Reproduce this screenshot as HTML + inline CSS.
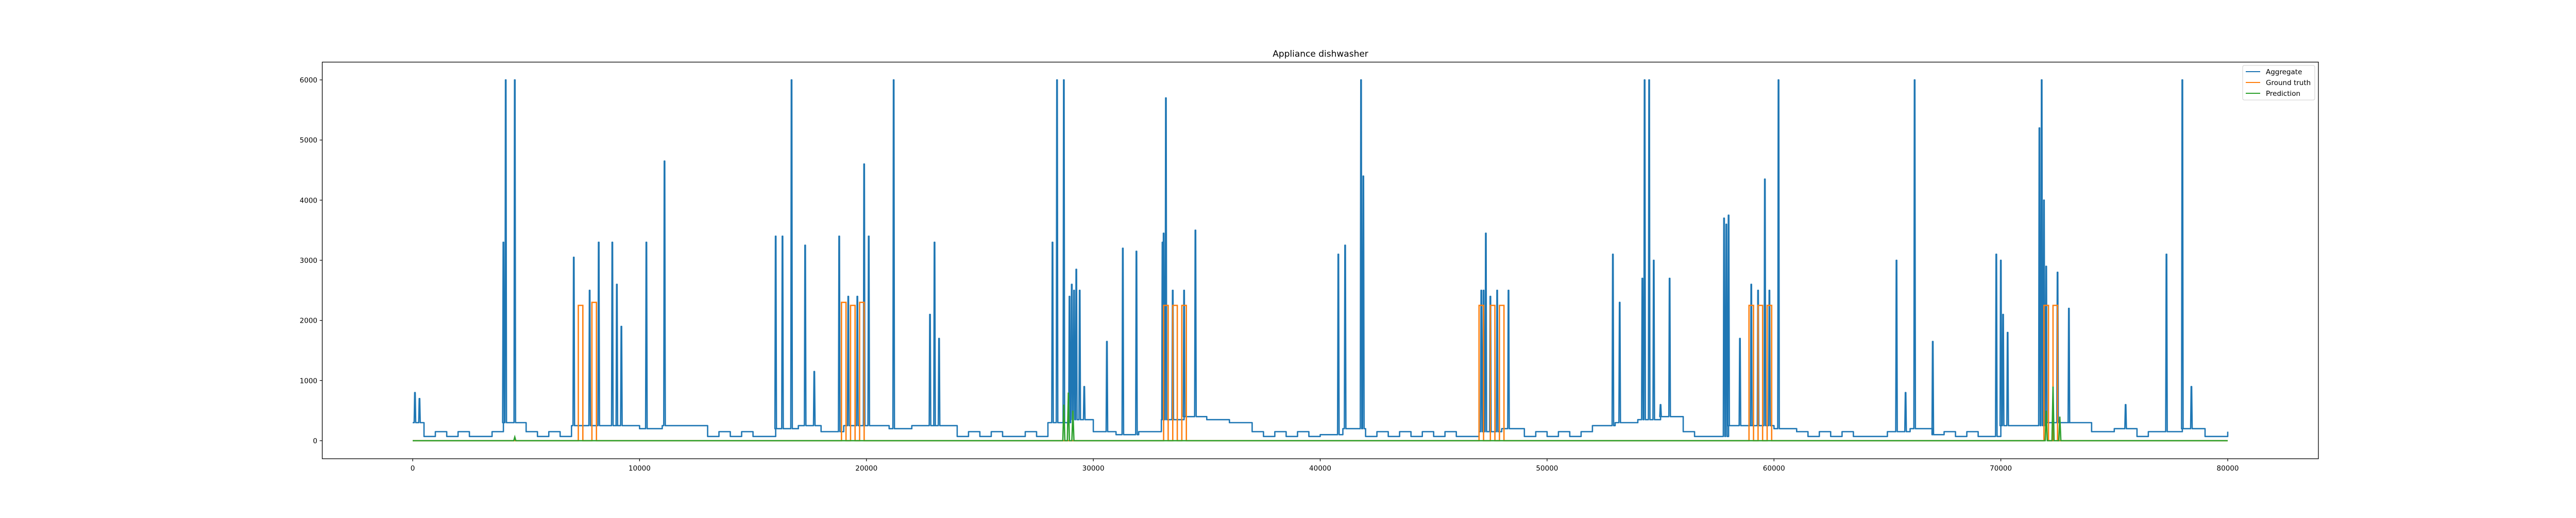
<!DOCTYPE html>
<html><head><meta charset="utf-8"><style>
html,body{margin:0;padding:0;background:#fff;}
svg text{font-family:"DejaVu Sans","Liberation Sans",sans-serif;}
</style></head><body>
<svg id="chart" width="5000" height="1000" xmlns="http://www.w3.org/2000/svg">
<rect width="5000" height="1000" fill="#fff"/>
<text x="2563" y="110" font-size="17" text-anchor="middle">Appliance dishwasher</text>
<g id="marks"></g>
<g id="axes"></g>
<g>
<rect x="4353" y="127" width="140" height="67" rx="3" fill="#fff" fill-opacity="0.8" stroke="#ccc"/>
<line x1="4359" y1="139" x2="4387" y2="139" stroke="#1f77b4" stroke-width="2"/>
<text x="4398" y="144" font-size="13.5">Aggregate</text>
<line x1="4359" y1="160" x2="4387" y2="160" stroke="#ff7f0e" stroke-width="2"/>
<text x="4398" y="165" font-size="13.5">Ground truth</text>
<line x1="4359" y1="181" x2="4387" y2="181" stroke="#2ca02c" stroke-width="2"/>
<text x="4398" y="186" font-size="13.5">Prediction</text>
</g>
</svg>
<script>
const baseX=[0,500,1000,1500,2000,2500,3000,3500,4000,5000,5500,6000,6500,7000,8000,9000,10000,11000,12000,13000,13500,14000,14500,15000,16000,17000,18000,19000,20000,21000,22000,23000,24000,24500,25000,25500,26000,26500,27000,27500,28000,29000,30000,31000,32000,33000,34000,35000,36000,37000,37500,38000,38500,39000,39500,40000,41000,42000,42500,43000,43500,44000,44500,45000,45500,46000,47000,48000,49000,49500,50000,50500,51000,51500,52000,53000,54000,55000,56000,56500,57000,58000,59000,60000,61000,61500,62000,62500,63000,63500,64000,65000,66000,67000,67500,68000,68500,69000,70000,71000,72000,73000,74000,75000,76000,76500,77000,78000,79000,80000];
const baseY=[300,70,150,70,150,70,70,150,300,150,70,150,70,250,250,250,200,250,250,70,150,70,150,70,200,250,150,250,250,200,250,250,70,150,70,150,70,70,150,70,300,350,150,100,150,350,400,350,300,150,70,150,70,150,70,100,200,70,150,70,150,70,150,70,150,70,150,200,70,150,70,150,70,150,250,300,350,400,150,70,70,250,250,200,150,70,150,70,150,70,70,150,200,100,150,70,150,70,250,250,300,300,150,200,70,150,150,200,70,150];
const spikeX=[100,300,4000,4100,4500,7100,7800,8200,8800,9000,9200,10300,11100,16000,16300,16700,17300,17700,18800,19200,19600,19900,20100,21200,22800,23000,23200,28200,28400,28700,28950,29050,29150,29250,29400,29600,30600,31300,31900,33050,33100,33200,33500,34000,34500,40800,41100,41800,41900,47100,47200,47300,47500,47800,48300,52900,53200,54200,54300,54500,54700,55000,55400,57800,57900,58000,58500,59000,59300,59600,59800,60200,65400,65800,66200,67000,69800,70000,70100,70300,71700,71800,71900,72000,72500,73000,75500,77300,78000,78400];
const spikeY=[800,700,3300,6000,6000,3050,2500,3300,3300,2600,1900,3300,4650,3400,3400,6000,3250,1150,3400,2400,2400,4600,3400,6000,2100,3300,1700,3300,6000,6000,2400,2600,2500,2850,2500,900,1650,3200,3150,3300,3450,5700,2500,2500,3500,3100,3250,6000,4400,2500,2500,3450,2400,2500,2500,3100,2300,2700,6000,6000,3000,600,2700,3700,3600,3750,1700,2600,2500,4350,2500,6000,3000,800,6000,1650,3100,3000,2100,1800,5200,6000,4000,2900,2800,2200,600,3100,6000,900];
const gtStart=[7300,7900,18900,19300,19700,33100,33500,33900,47000,47500,47900,58900,59300,59700,71900,72300];
const gtEnd=[7500,8100,19100,19500,19900,33300,33700,34100,47200,47700,48100,59100,59500,59900,72100,72500];
const gtLevel=[2250,2300,2300,2250,2300,2250,2250,2250,2250,2250,2250,2250,2250,2250,2250,2250];
const predX=[4500,28700,28900,29100,72000,72300,72600];
const predY=[60,600,800,500,500,900,400];
const xTicks=[0,10000,20000,30000,40000,50000,60000,70000,80000];
const yTicks=[0,1000,2000,3000,4000,5000,6000];

const X=v=>801+v*(3523/80000);
const Y=v=>855-v*(700/6000);
const NS='http://www.w3.org/2000/svg';
const marks=document.getElementById('marks');
const axes=document.getElementById('axes');
function mk(tag,attrs,parent){const e=document.createElementNS(NS,tag);for(const k in attrs)e.setAttribute(k,attrs[k]);parent.appendChild(e);return e;}

let pts=[];
let si=0;
const spikes=spikeX.map((x,i)=>[x,spikeY[i]]).sort((a,b)=>a[0]-b[0]);
for(let i=0;i<baseX.length;i++){
  const x0=baseX[i], x1=i+1<baseX.length?baseX[i+1]:baseX[i]+200, y=baseY[i];
  pts.push([X(x0),Y(y)]);
  while(si<spikes.length && spikes[si][0]<x1){
    const sx=X(spikes[si][0]);
    pts.push([sx-1.5,Y(y)],[sx-0.5,Y(spikes[si][1])],[sx+0.5,Y(spikes[si][1])],[sx+1.5,Y(y)]);
    si++;
  }
  if(i+1<baseX.length) pts.push([X(x1),Y(y)]);
}
const agg=mk('polyline',{points:pts.map(p=>p[0].toFixed(1)+','+p[1].toFixed(1)).join(' '),fill:'none',stroke:'#1f77b4','stroke-width':2.6,'stroke-linejoin':'round'},marks);



let g=[[X(0),Y(0)]];
for(let i=0;i<gtStart.length;i++){
  g.push([X(gtStart[i]),Y(0)],[X(gtStart[i]),Y(gtLevel[i])],[X(gtEnd[i]),Y(gtLevel[i])],[X(gtEnd[i]),Y(0)]);
}
g.push([X(80000),Y(0)]);
const gt=mk('polyline',{points:g.map(p=>p[0].toFixed(1)+','+p[1].toFixed(1)).join(' '),fill:'none',stroke:'#ff7f0e','stroke-width':2.6},marks);



let p=[[X(0),Y(0)]];
for(let i=0;i<predX.length;i++){
  const sx=X(predX[i]);
  p.push([sx-2,Y(0)],[sx,Y(predY[i])],[sx+2,Y(0)]);
}
p.push([X(80000),Y(0)]);
const pr=mk('polyline',{points:p.map(q=>q[0].toFixed(1)+','+q[1].toFixed(1)).join(' '),fill:'none',stroke:'#2ca02c','stroke-width':2.6},marks);



const frame=mk('rect',{x:625.5,y:120.5,width:3874.5,height:769.5,fill:'none',stroke:'#000','stroke-width':1.3},axes);


xTicks.forEach(v=>{
  const x=X(v);
  mk('line',{x1:x,y1:890,x2:x,y2:895,stroke:'#000','stroke-width':1.2},axes);
  const t=mk('text',{x:x,y:913,'font-size':13.5,'text-anchor':'middle'},axes);
  t.textContent=v;
  
  
});
yTicks.forEach(v=>{
  const y=Y(v);
  mk('line',{x1:620.5,y1:y,x2:625.5,y2:y,stroke:'#000','stroke-width':1.2},axes);
  const t=mk('text',{x:616,y:y+5,'font-size':13.5,'text-anchor':'end'},axes);
  t.textContent=v;
  
  
});
</script>
</body></html>
